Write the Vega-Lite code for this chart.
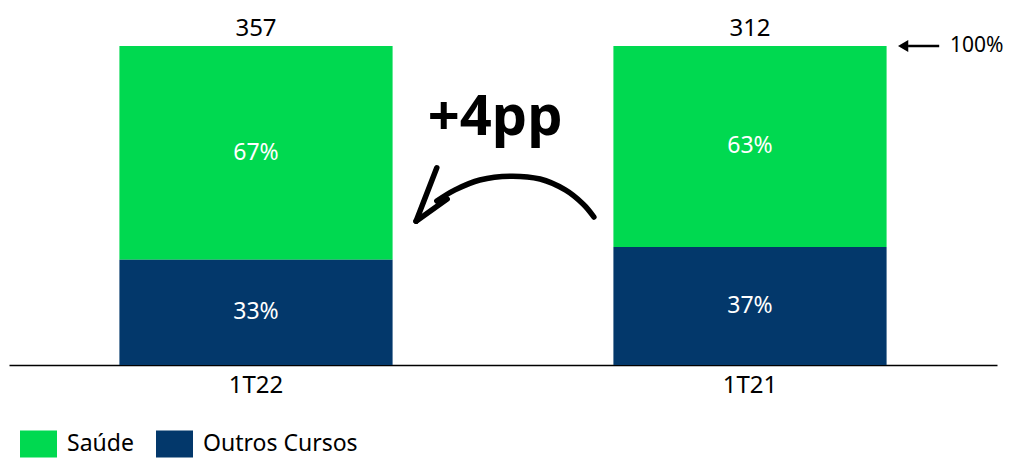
{
  "$schema": "https://vega.github.io/schema/vega-lite/v6.json",
  "width": 988,
  "height": 319,
  "autosize": {"type": "none"},
  "padding": {"left": 9, "top": 46, "right": 13, "bottom": 94},
  "background": "white",
  "config": {"view": {"stroke": null}, "font": "Noto Sans", "text": {"font": "Noto Sans"}},
  "datasets": {
    "cursos": [
      {"periodo": "1T22", "curso": "Saúde", "pct": 0.67},
      {"periodo": "1T22", "curso": "Outros Cursos", "pct": 0.33},
      {"periodo": "1T21", "curso": "Saúde", "pct": 0.63},
      {"periodo": "1T21", "curso": "Outros Cursos", "pct": 0.37}
    ],
    "totais": [
      {"periodo": "1T22", "total": 357},
      {"periodo": "1T21", "total": 312}
    ],
    "seta": [
      {"parte": "h1", "i": 1, "x": 0.866, "y": 0.618},
      {"parte": "h1", "i": 2, "x": 0.824, "y": 0.451},
      {"parte": "h2", "i": 1, "x": 0.824, "y": 0.451},
      {"parte": "h2", "i": 2, "x": 0.887, "y": 0.520},
      {"parte": "corpo", "i": 1, "x": 0.866, "y": 0.514},
      {"parte": "corpo", "i": 2, "x": 0.903, "y": 0.549},
      {"parte": "corpo", "i": 3, "x": 0.953, "y": 0.580},
      {"parte": "corpo", "i": 4, "x": 1.014, "y": 0.592},
      {"parte": "corpo", "i": 5, "x": 1.075, "y": 0.583},
      {"parte": "corpo", "i": 6, "x": 1.126, "y": 0.549},
      {"parte": "corpo", "i": 7, "x": 1.162, "y": 0.505},
      {"parte": "corpo", "i": 8, "x": 1.184, "y": 0.464}
    ],
    "variacao": [{"texto": "+4pp"}],
    "referencia": [{"texto": "100%"}]
  },
  "layer": [
    {
      "data": {"name": "cursos"},
      "layer": [
        {
          "transform": [
            {"stack": "pct", "groupby": ["periodo"], "sort": [{"field": "curso", "order": "ascending"}], "as": ["y0", "y1"]}
          ],
          "mark": {"type": "bar"},
          "encoding": {
            "x": {
              "field": "periodo", "type": "nominal", "sort": ["1T22", "1T21"],
              "scale": {"paddingInner": 0.447, "paddingOuter": 0.2235},
              "axis": {"title": null, "ticks": false, "labelPadding": 8, "labelFontSize": 24, "labelFont": "Noto Sans", "labelColor": "#000", "domainColor": "#000", "domainWidth": 1.5, "labelAngle": 0, "grid": false}
            },
            "y": {"field": "y0", "type": "quantitative", "scale": {"domain": [0, 1], "nice": false}, "axis": null},
            "y2": {"field": "y1"},
            "color": {
              "field": "curso", "type": "nominal",
              "scale": {"domain": ["Saúde", "Outros Cursos"], "range": ["#00D950", "#03386B"]},
              "legend": {"title": null, "orient": "none", "legendX": 11, "legendY": 379, "direction": "horizontal", "symbolType": "M-1,-0.73H1V0.73H-1Z", "symbolSize": 1369, "symbolStrokeWidth": 0, "symbolOpacity": 1, "labelFontSize": 23, "labelFont": "Noto Sans", "labelColor": "#000", "labelOffset": 10, "columnPadding": 22, "padding": 0}
            }
          }
        },
        {
          "transform": [
            {"stack": "pct", "groupby": ["periodo"], "sort": [{"field": "curso", "order": "ascending"}], "as": ["y0", "y1"]},
            {"fold": ["y0", "y1"], "as": ["borda", "pos"]},
            {"aggregate": [{"op": "mean", "field": "pos", "as": "meio"}], "groupby": ["periodo", "curso", "pct"]}
          ],
          "mark": {"type": "text", "color": "white", "fontSize": 23, "baseline": "middle", "align": "center"},
          "encoding": {
            "x": {"field": "periodo", "type": "nominal", "sort": ["1T22", "1T21"]},
            "y": {"field": "meio", "type": "quantitative", "scale": {"domain": [0, 1], "nice": false}},
            "text": {"field": "pct", "type": "quantitative", "format": ".0%"}
          }
        },
        {
          "data": {"name": "totais"},
          "mark": {"type": "text", "color": "#000", "fontSize": 24, "baseline": "alphabetic", "align": "center", "dy": -10},
          "encoding": {
            "x": {"field": "periodo", "type": "nominal", "sort": ["1T22", "1T21"]},
            "y": {"datum": 1, "type": "quantitative", "scale": {"domain": [0, 1], "nice": false}},
            "text": {"field": "total", "type": "quantitative"}
          }
        }
      ]
    },
    {
      "data": {"name": "variacao"},
      "mark": {"type": "text", "fontSize": 56, "fontWeight": "bold", "font": "Noto Sans", "align": "center", "baseline": "alphabetic", "color": "#000"},
      "encoding": {
        "x": {"datum": 0.984, "type": "quantitative", "scale": {"domain": [0, 2], "nice": false, "zero": false}, "axis": null},
        "y": {"datum": 0.721, "type": "quantitative", "scale": {"domain": [0, 1], "nice": false}},
        "text": {"field": "texto"}
      }
    },
    {
      "data": {"name": "seta"},
      "mark": {"type": "line", "color": "#000", "strokeWidth": 5.5, "strokeCap": "round", "strokeJoin": "round", "interpolate": "cardinal"},
      "encoding": {
        "x": {"field": "x", "type": "quantitative", "scale": {"domain": [0, 2], "nice": false, "zero": false}, "axis": null},
        "y": {"field": "y", "type": "quantitative", "scale": {"domain": [0, 1], "nice": false}},
        "detail": {"field": "parte", "type": "nominal"},
        "order": {"field": "i"}
      }
    },
    {
      "data": {"name": "referencia"},
      "mark": {"type": "rule", "color": "#000", "strokeWidth": 2.5},
      "encoding": {
        "x": {"datum": 1.82, "type": "quantitative", "scale": {"domain": [0, 2], "nice": false, "zero": false}, "axis": null},
        "x2": {"datum": 1.883},
        "y": {"datum": 1, "type": "quantitative", "scale": {"domain": [0, 1], "nice": false}}
      }
    },
    {
      "data": {"name": "referencia"},
      "mark": {"type": "point", "shape": "triangle-left", "filled": true, "size": 140, "color": "#000", "opacity": 1},
      "encoding": {
        "x": {"datum": 1.81, "type": "quantitative", "scale": {"domain": [0, 2], "nice": false, "zero": false}, "axis": null},
        "y": {"datum": 1, "type": "quantitative", "scale": {"domain": [0, 1], "nice": false}}
      }
    },
    {
      "data": {"name": "referencia"},
      "mark": {"type": "text", "fontSize": 21, "align": "left", "baseline": "middle", "color": "#000"},
      "encoding": {
        "x": {"datum": 1.905, "type": "quantitative", "scale": {"domain": [0, 2], "nice": false, "zero": false}, "axis": null},
        "y": {"datum": 1, "type": "quantitative", "scale": {"domain": [0, 1], "nice": false}},
        "text": {"field": "texto"}
      }
    }
  ],
  "resolve": {"scale": {"x": "independent"}}
}
